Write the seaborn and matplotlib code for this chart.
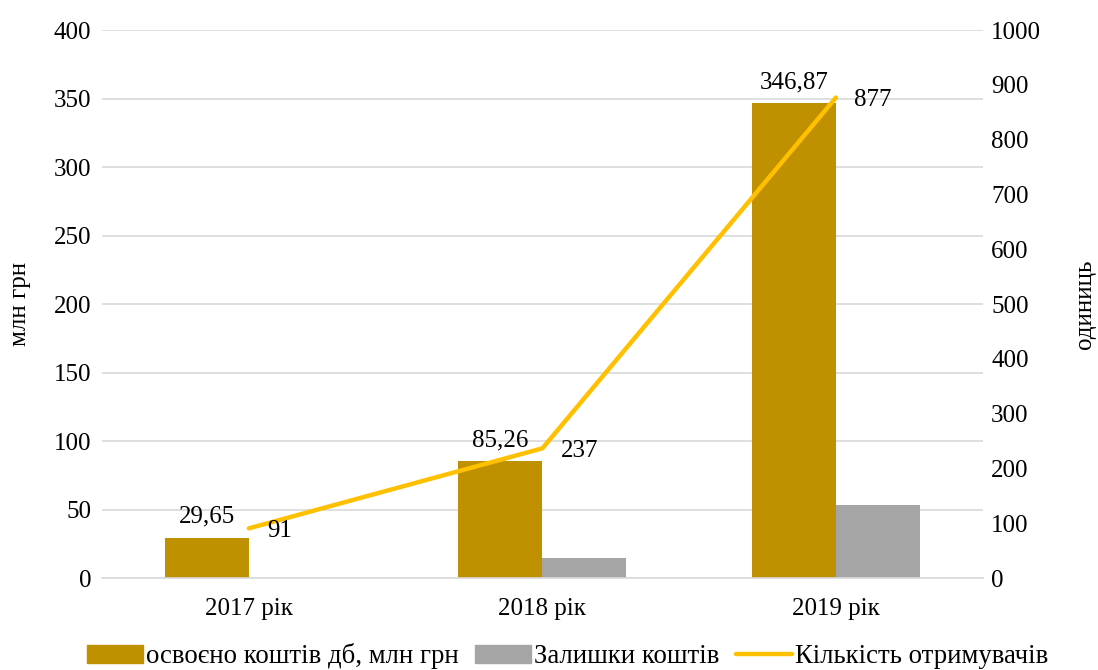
import pandas as pd
import numpy as np
import matplotlib.pyplot as plt
import seaborn as sns
from matplotlib.patches import Patch
from matplotlib.lines import Line2D

# Дані з діаграми
years = ["2017 рік", "2018 рік", "2019 рік"]
spent = [29.65, 85.26, 346.87]        # освоєно коштів дб, млн грн
remaining = [0.0, 14.6, 53.3]         # залишки коштів
recipients = [91, 237, 877]           # кількість отримувачів, одиниць

spent_labels = ["29,65", "85,26", "346,87"]

sns.set_theme(style="white")
plt.rcParams["font.family"] = ["Liberation Serif", "DejaVu Serif"]
plt.rcParams["text.color"] = "black"
plt.rcParams["axes.labelcolor"] = "black"
plt.rcParams["xtick.color"] = "black"
plt.rcParams["ytick.color"] = "black"

FS = 18

df = pd.DataFrame({
    "year": years * 2,
    "value": spent + remaining,
    "series": ["освоєно коштів дб, млн грн"] * 3 + ["Залишки коштів"] * 3,
})

fig = plt.figure(figsize=(10.98, 6.70), dpi=100)
ax = fig.add_axes([0.093, 0.137, 0.802, 0.818])

sns.barplot(data=df, x="year", y="value", hue="series",
            palette=["#BF9000", "#A5A5A5"], width=0.572, gap=0,
            saturation=1, linewidth=0, ax=ax, legend=False)

ax.set_ylim(0, 400)
ax.set_yticks(np.arange(0, 401, 50))
ax.set_xlim(-0.5, 2.5)
ax.yaxis.grid(True, color="#D9D9D9", linewidth=1.2)
ax.set_axisbelow(True)
for s in ["top", "right", "left"]:
    ax.spines[s].set_visible(False)
ax.spines["bottom"].set_color("#D9D9D9")
ax.spines["bottom"].set_linewidth(1.2)
ax.tick_params(axis="y", labelsize=FS, length=0, pad=8)
ax.tick_params(axis="x", labelsize=FS, length=0, pad=14)
ax.set_xlabel("")
ax.set_ylabel("млн грн", fontsize=FS, labelpad=16)

# підписи над стовпцями
for i, (v, lab) in enumerate(zip(spent, spent_labels)):
    ax.annotate(lab, (i - 0.143, v), xytext=(0, 7), textcoords="offset points",
                ha="center", va="bottom", fontsize=FS)

# друга вісь — кількість отримувачів
ax2 = ax.twinx()
xs = np.arange(len(years))
sns.lineplot(x=xs, y=recipients, color="#FFC000", linewidth=3.2, ax=ax2,
             solid_capstyle="round")
ax2.set_ylim(0, 1000)
ax2.set_yticks(np.arange(0, 1001, 100))
for s in ["top", "right", "left", "bottom"]:
    ax2.spines[s].set_visible(False)
ax2.tick_params(axis="y", labelsize=FS, length=0, pad=6)
ax2.set_ylabel("одиниць", fontsize=FS, rotation=90, labelpad=24)
ax2.set_xlim(-0.5, 2.5)

for x, v in zip(xs, recipients):
    ax2.annotate(str(v), (x, v), xytext=(13, -2), textcoords="offset points",
                 ha="left", va="center", fontsize=FS)

# легенда
handles = [Patch(color="#BF9000", label="освоєно коштів дб, млн грн"),
           Patch(color="#A5A5A5", label="Залишки коштів"),
           Line2D([0], [0], color="#FFC000", lw=3.2, label="Кількість отримувачів")]
fig.legend(handles=handles, loc="lower center", bbox_to_anchor=(0.517, -0.035),
           ncol=3, frameon=False, fontsize=19.3, handlelength=2.1,
           handletextpad=0.12, columnspacing=0.6)

fig.savefig("out.png", dpi=100)
